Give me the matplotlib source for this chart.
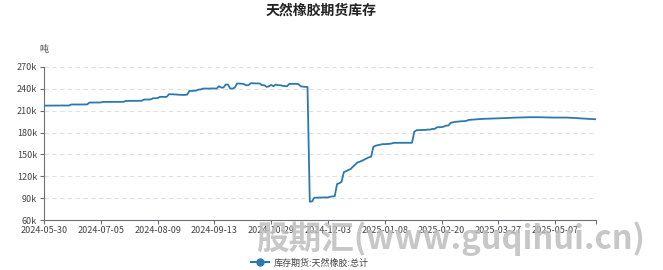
import matplotlib
matplotlib.use("Agg")
import matplotlib.pyplot as plt
from matplotlib.ticker import FuncFormatter, FixedLocator
from matplotlib.lines import Line2D

plt.rcParams['font.family'] = ['Noto Sans CJK SC', 'DejaVu Sans']

# ======================
# Data (tons, in thousands), one value per trading day
# ======================
tick_labels = ["2024-05-30", "2024-07-05", "2024-08-09", "2024-09-13", "2024-10-29",
               "2024-12-03", "2025-01-08", "2025-02-20", "2025-03-27", "2025-05-07"]
tick_step = 25

stock_k = [
    # 0-19
    217.0, 217.0, 217.1, 217.1, 217.1, 217.0, 217.1, 217.1, 217.2, 217.1,
    217.1, 217.2, 218.5, 218.5, 218.5, 218.6, 218.5, 218.5, 218.6, 218.6,
    # 20-39
    221.2, 221.2, 221.2, 221.3, 221.2, 221.3, 222.1, 222.1, 222.1, 222.2,
    222.1, 222.1, 222.2, 222.2, 222.1, 222.2, 223.5, 223.5, 223.5, 223.6,
    # 40-59
    223.5, 223.6, 223.6, 223.7, 225.3, 225.3, 225.4, 225.5, 227.1, 227.1,
    227.3, 229.0, 229.0, 229.1, 229.0, 232.6, 232.6, 232.5, 232.2, 232.0,
    # 60-79
    231.8, 231.7, 231.7, 232.0, 237.2, 237.2, 237.4, 237.6, 239.0, 239.2,
    240.4, 240.4, 240.5, 240.4, 240.6, 240.5, 240.4, 243.6, 241.8, 241.8,
    # 80-99
    245.9, 245.9, 240.4, 240.4, 241.8, 247.3, 247.3, 247.0, 246.5, 245.0,
    245.0, 247.7, 247.7, 247.5, 247.5, 247.3, 245.0, 245.0, 242.7, 243.5,
    # 100-119
    245.4, 243.6, 245.9, 245.0, 245.0, 244.2, 243.8, 243.6, 246.8, 246.8,
    246.8, 246.9, 246.5, 243.6, 243.0, 242.7, 242.5, 85.1, 85.5, 90.6,
    # 120-139
    90.7, 90.8, 90.8, 90.9, 91.0, 91.0, 91.9, 92.3, 92.8, 109.3,
    110.5, 112.5, 125.8, 127.0, 128.6, 130.0, 133.2, 136.0, 139.0, 140.0,
    # 140-159
    141.4, 143.0, 144.5, 146.0, 146.9, 160.5, 162.0, 162.7, 163.5, 164.1,
    164.1, 164.3, 164.5, 165.0, 165.9, 165.9, 165.9, 165.9, 165.9, 165.9,
    # 160-179
    165.9, 165.9, 166.0, 181.0, 183.3, 183.3, 183.4, 183.5, 183.7, 184.1,
    184.1, 185.0, 185.0, 187.3, 187.3, 187.5, 188.2, 189.6, 189.6, 193.3,
    # 180-199
    194.0, 194.7, 195.0, 195.3, 195.6, 195.6, 196.2, 197.4, 197.6, 197.9,
    198.1, 198.3, 198.5, 198.8, 198.9, 199.0, 199.1, 199.2, 199.3, 199.4,
    # 200-219
    199.5, 199.7, 199.8, 199.9, 200.0, 200.2, 200.3, 200.5, 200.6, 200.7,
    200.8, 200.9, 201.0, 201.0, 201.1, 201.1, 201.1, 201.1, 201.0, 201.0,
    # 220-243
    200.9, 200.8, 200.7, 200.6, 200.6, 200.6, 200.6, 200.6, 200.6, 200.6,
    200.6, 200.4, 200.3, 200.1, 200.0, 199.7, 199.5, 199.3, 199.1, 198.9,
    198.7, 198.6, 198.4, 198.3,
]

series_name = "库存期货:天然橡胶:总计"
title = "天然橡胶期货库存"
unit = "吨"
watermark = "股期汇(www.guqihui.cn)"

# ======================
# Plot
# ======================
line_color = '#2b79ad'
grey = '#6e7079'

fig = plt.figure(figsize=(6.63, 2.70), dpi=100)
ax = fig.add_axes([44 / 663, 1 - 220 / 270, 552 / 663, 153 / 270])

x = list(range(len(stock_k)))
y = [v * 1000 for v in stock_k]
ax.plot(x, y, color=line_color, lw=1.3, solid_joinstyle='round', zorder=3)

ax.set_xlim(0, len(stock_k) - 1)
ax.set_ylim(60000, 270000)
ax.set_yticks(range(60000, 270001, 30000))
ax.yaxis.set_major_formatter(FuncFormatter(lambda v, p: f"{int(v / 1000)}k"))

tick_pos = [i * tick_step for i in range(len(tick_labels))]
ax.set_xticks(tick_pos)
ax.set_xticklabels(tick_labels)
ax.xaxis.set_minor_locator(FixedLocator([len(stock_k) - 1]))

ax.grid(axis='y', color='#e0e0e0', ls=(0, (4, 3)), lw=0.8)
ax.set_axisbelow(True)
for s in ['top', 'right']:
    ax.spines[s].set_visible(False)
ax.spines['left'].set_color(grey)
ax.spines['bottom'].set_color(grey)
ax.spines['left'].set_linewidth(0.8)
ax.spines['bottom'].set_linewidth(0.8)

ax.tick_params(axis='y', length=3, width=0.8, color=grey, labelsize=6.5, labelcolor='#444', pad=2)
ax.tick_params(axis='x', which='both', length=3, width=0.8, color=grey, labelsize=6.5,
               labelcolor='#444', pad=1.5)

fig.text(321 / 663, 1 - 11 / 270, title, ha='center', va='center', fontsize=10,
         fontweight='bold', color='#222')
fig.text(44 / 663, 1 - 50 / 270, unit, ha='center', va='center', fontsize=6.5, color='#444')

# watermark
fig.text(451 / 663, 1 - 239 / 270, watermark, ha='center', va='center', fontsize=23.5,
         fontweight='bold', color='#bdbdbd', alpha=0.85, zorder=10)

# legend
handle = Line2D([], [], color=line_color, lw=1.5, marker='o', markersize=5)
fig.legend([handle], [series_name], loc='center', bbox_to_anchor=(310 / 663, 1 - 263 / 270),
           frameon=False, fontsize=6.5, handlelength=2.0, handletextpad=0.5,
           labelcolor='#444')

fig.savefig("out.png", dpi=100)
